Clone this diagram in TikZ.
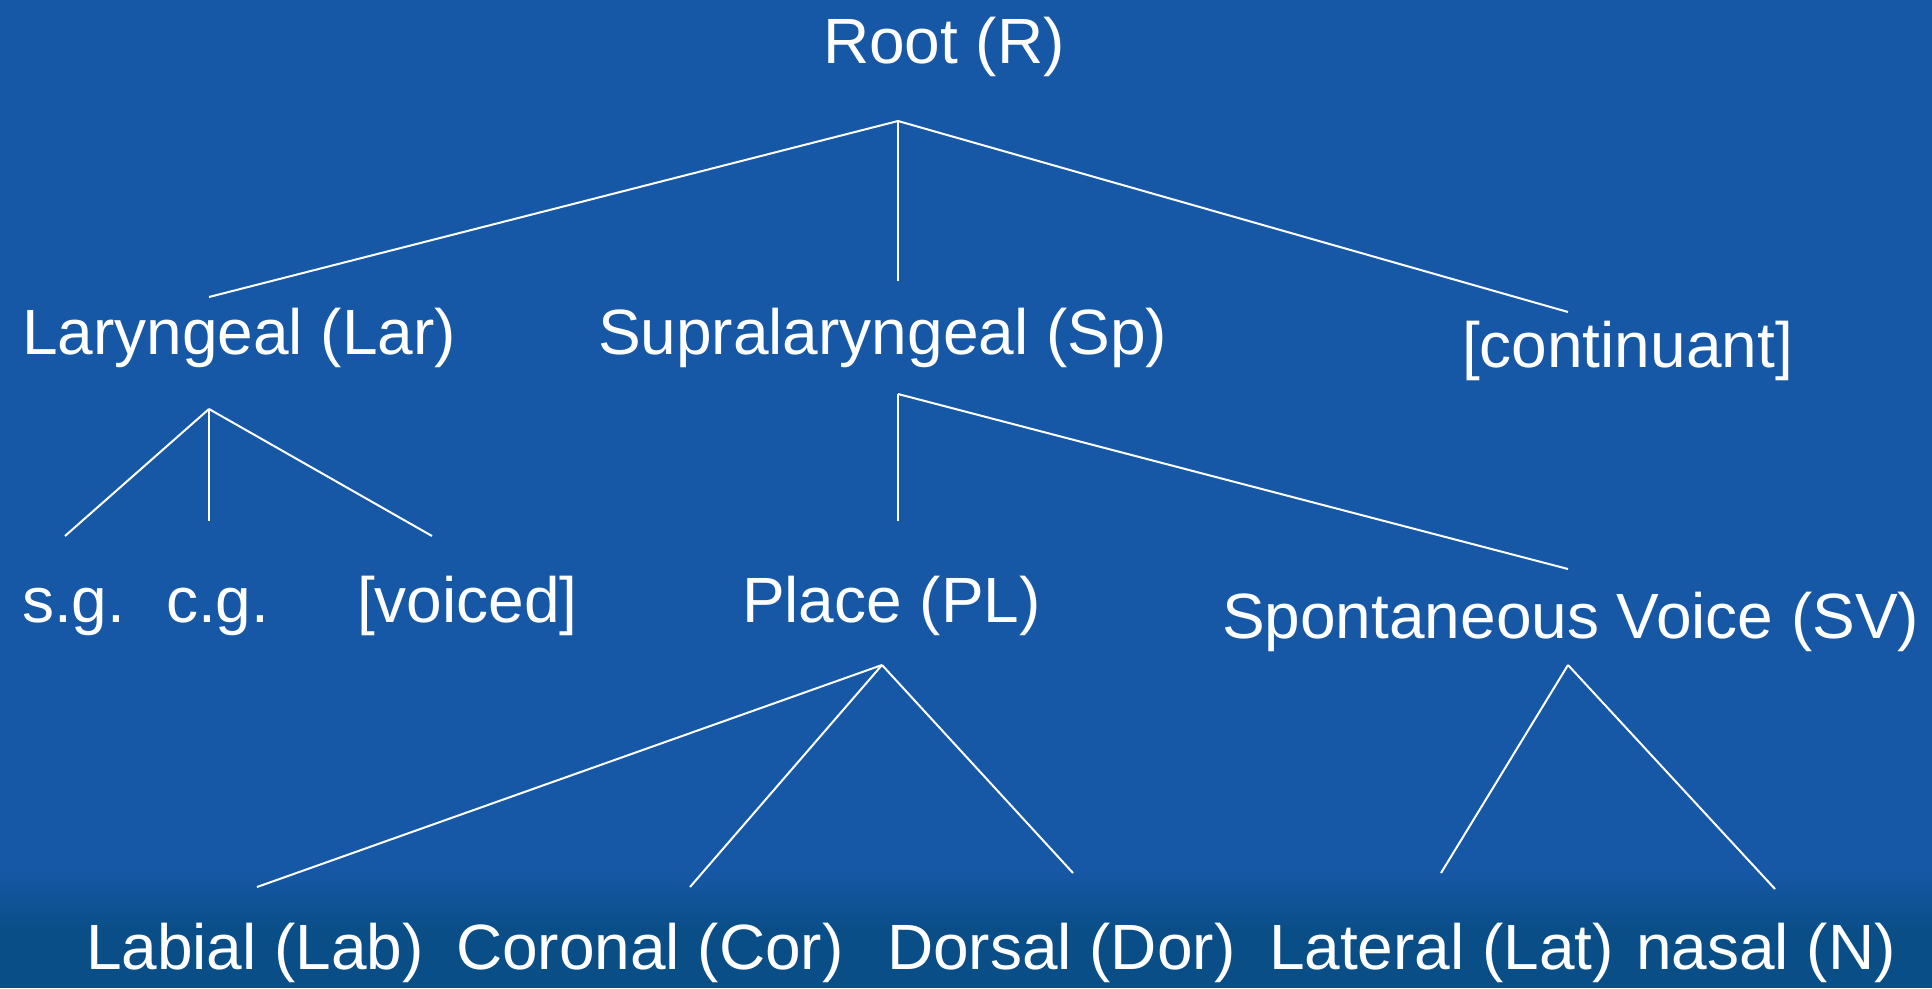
\documentclass[tikz,border=0pt]{standalone}
\usepackage{fontspec}
\setmainfont{Liberation Sans}
\begin{document}
\begin{tikzpicture}[x=1pt,y=-1pt,
  lbl/.style={anchor=base west,inner sep=0pt,outer sep=0pt,text=white,font=\fontsize{64}{76}\selectfont},
  branch/.style={draw=white,line width=2pt}]
\definecolor{bgblue}{RGB}{22,88,166}
\definecolor{bgdark}{RGB}{10,78,136}
\useasboundingbox (0,0) rectangle (1932,988);
\fill[bgblue] (0,0) rectangle (1932,870);
\shade[top color=bgblue,bottom color=bgdark] (0,869) rectangle (1932,930);
\fill[bgdark] (0,929) rectangle (1932,988);
% labels
\node[lbl] (root) at (823,63) {Root (R)};
\node[lbl] (lar) at (22,354) {Laryngeal (Lar)};
\node[lbl] (sp) at (598,354) {Supralaryngeal (Sp)};
\node[lbl] (cont) at (1462,367) {[continuant]};
\node[lbl] (sg) at (22,622) {s.g.};
\node[lbl] (cg) at (166,622) {c.g.};
\node[lbl] (voi) at (357,622) {[voiced]};
\node[lbl] (pl) at (742,622) {Place (PL)};
\node[lbl] (sv) at (1222,638) {Spontaneous Voice (SV)};
\node[lbl] (lab) at (86,969) {Labial (Lab)};
\node[lbl] (cor) at (456,969) {Coronal (Cor)};
\node[lbl] (dor) at (887,969) {Dorsal (Dor)};
\node[lbl] (lat) at (1269,969) {Lateral (Lat)};
\node[lbl] (nas) at (1636,969) {nasal (N)};
% branch points
\coordinate (rootA) at (898,121);
\coordinate (larT) at (209,297);
\coordinate (spT) at (898,281);
\coordinate (contT) at (1568,312);
\coordinate (larA) at (209,409);
\coordinate (sgT) at (65,536);
\coordinate (cgT) at (209,521);
\coordinate (voiT) at (432,536);
\coordinate (spA) at (898,394);
\coordinate (plT) at (898,521);
\coordinate (svT) at (1568,569);
\coordinate (plA) at (882,665);
\coordinate (labT) at (257,887);
\coordinate (corT) at (690,887);
\coordinate (dorT) at (1073,873);
\coordinate (svA) at (1568,665);
\coordinate (latT) at (1441,873);
\coordinate (nasT) at (1775,889);
% connectors
\draw[branch] (rootA) -- (larT);
\draw[branch] (rootA) -- (spT);
\draw[branch] (rootA) -- (contT);
\draw[branch] (larA) -- (sgT);
\draw[branch] (larA) -- (cgT);
\draw[branch] (larA) -- (voiT);
\draw[branch] (spA) -- (plT);
\draw[branch] (spA) -- (svT);
\draw[branch] (plA) -- (labT);
\draw[branch] (plA) -- (corT);
\draw[branch] (plA) -- (dorT);
\draw[branch] (svA) -- (latT);
\draw[branch] (svA) -- (nasT);
\end{tikzpicture}
\end{document}
